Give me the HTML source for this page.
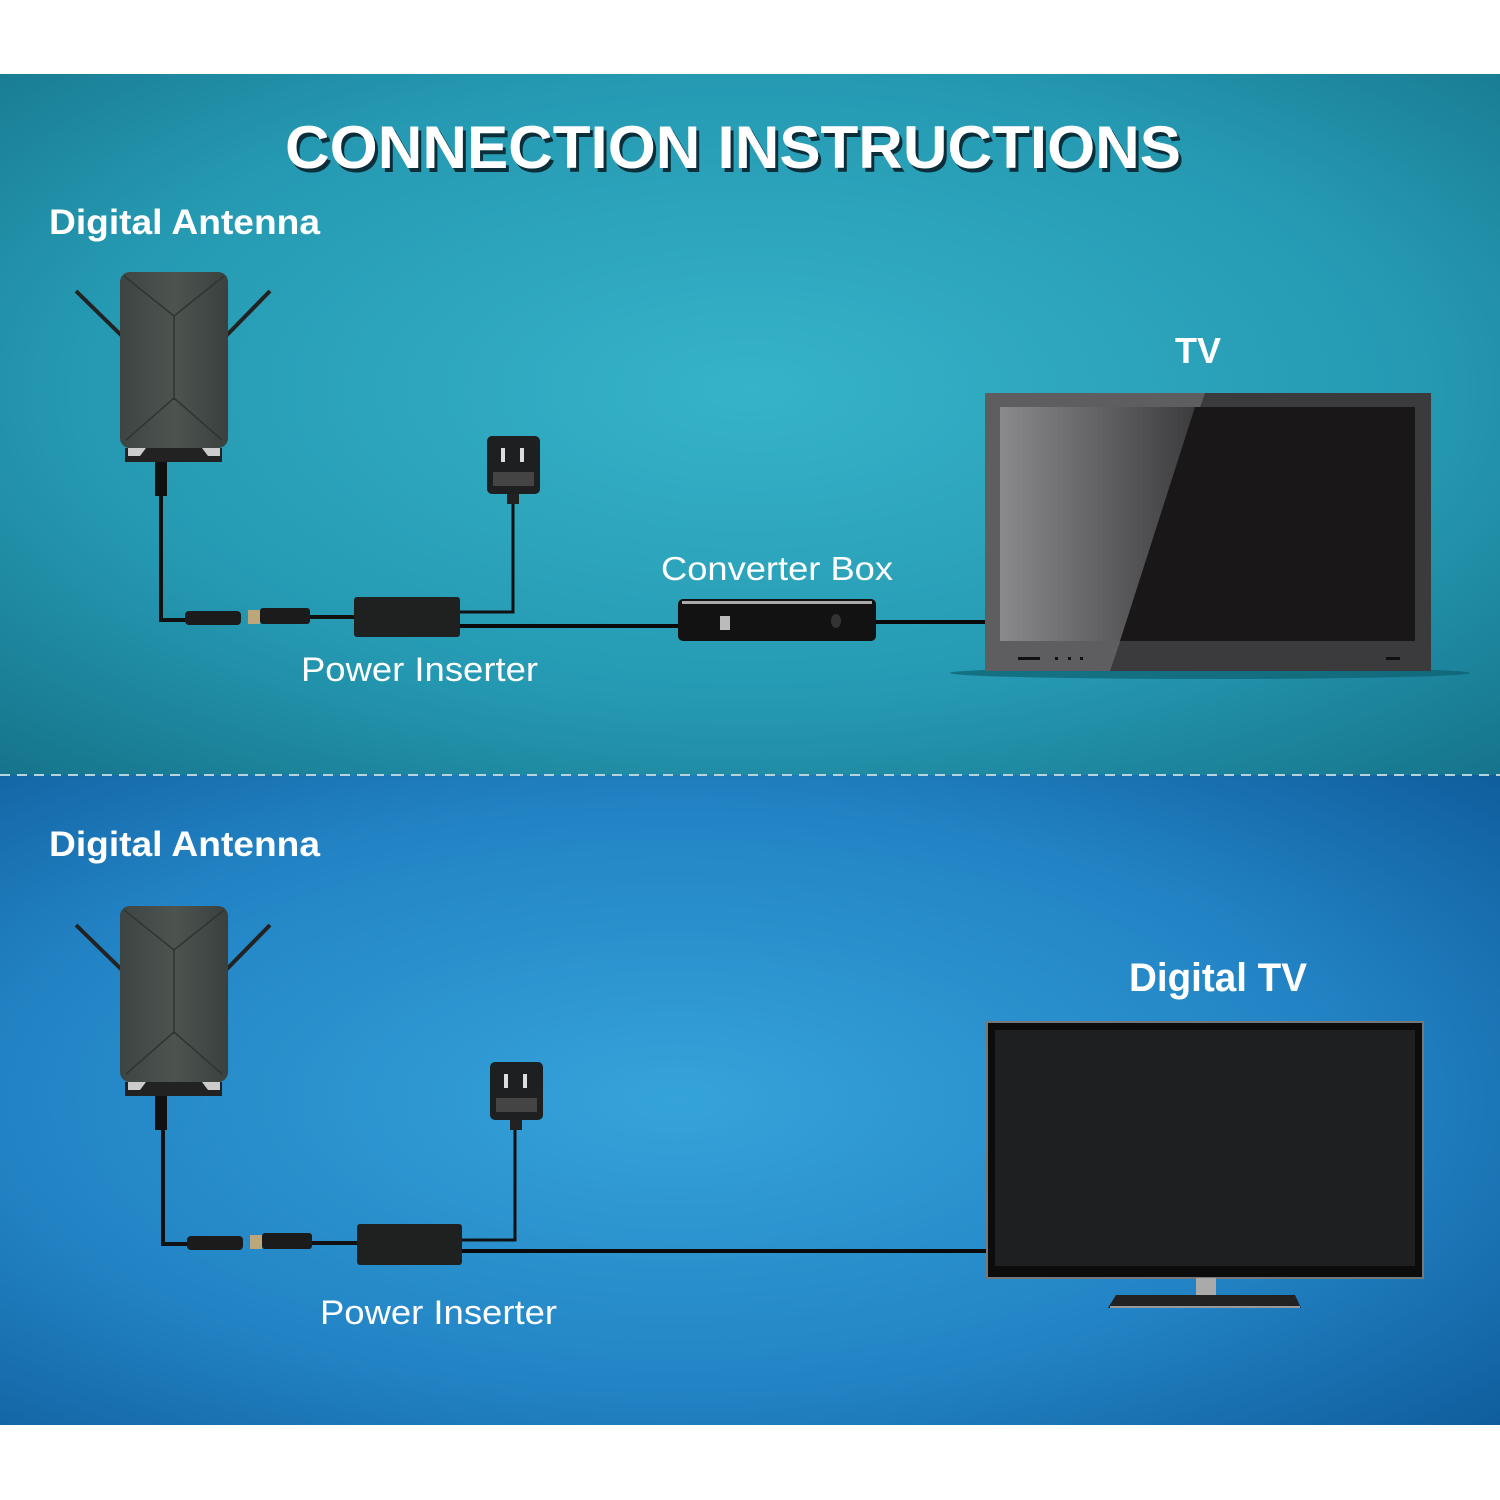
<!DOCTYPE html>
<html><head><meta charset="utf-8"><style>
html,body{margin:0;padding:0;background:#fff}
svg{display:block}
text{font-family:"Liberation Sans",sans-serif;fill:#fff}
</style></head><body>
<svg width="1500" height="1500" viewBox="0 0 1500 1500" xmlns="http://www.w3.org/2000/svg">
<defs>
<radialGradient id="gt" cx="0.5" cy="0.45" r="0.75">
<stop offset="0" stop-color="#36b3c9"/><stop offset="0.6" stop-color="#2599b2"/><stop offset="1" stop-color="#15738a"/>
</radialGradient>
<radialGradient id="gb" cx="0.45" cy="0.5" r="0.75">
<stop offset="0" stop-color="#35a3da"/><stop offset="0.6" stop-color="#2283c4"/><stop offset="1" stop-color="#0f5c9c"/>
</radialGradient>
<linearGradient id="ant" x1="0" x2="1"><stop offset="0" stop-color="#3d4441"/><stop offset="0.5" stop-color="#4d5450"/><stop offset="1" stop-color="#3a403d"/></linearGradient>
<linearGradient id="gloss" x1="0" x2="1"><stop offset="0" stop-color="#8a8a8c"/><stop offset="1" stop-color="#3c3c3e"/></linearGradient>
<g id="antenna">
<line x1="76" y1="291" x2="122" y2="336" stroke="#222" stroke-width="4"/>
<line x1="270" y1="291" x2="226" y2="336" stroke="#222" stroke-width="4"/>
<rect x="120" y="272" width="108" height="176" rx="10" fill="url(#ant)"/>
<path d="M124 276 L174 316 L224 276" fill="none" stroke="#2f3532" stroke-width="1.5"/>
<path d="M174 316 L174 400 M126 440 L174 398 L222 440" fill="none" stroke="#2f3532" stroke-width="1.5"/>
<rect x="125" y="448" width="97" height="14" fill="#222"/>
<path d="M128 448 h18 l-6 8 h-12z M220 448 h-18 l6 8 h12z" fill="#ccc"/>
<rect x="155" y="462" width="12" height="34" fill="#111"/>
</g>
<g id="adapter">
<rect x="0" y="0" width="53" height="58" rx="5" fill="#1d1f20"/>
<rect x="14" y="12" width="4" height="14" fill="#ddd"/><rect x="33" y="12" width="4" height="14" fill="#ddd"/>
<rect x="6" y="36" width="41" height="14" fill="#444"/>
<rect x="20" y="58" width="12" height="10" fill="#222"/>
</g>
</defs>
<rect x="0" y="74" width="1500" height="701" fill="url(#gt)"/>
<rect x="0" y="775" width="1500" height="650" fill="url(#gb)"/>
<line x1="0" y1="775" x2="1500" y2="775" stroke="#b5d3df" stroke-width="2" stroke-dasharray="10 7"/>

<text x="288" y="172" font-size="60" font-weight="bold" textLength="896" lengthAdjust="spacingAndGlyphs" style="fill:#0a2e3a">CONNECTION INSTRUCTIONS</text>
<text x="285" y="168" font-size="60" font-weight="bold" textLength="896" lengthAdjust="spacingAndGlyphs">CONNECTION INSTRUCTIONS</text>

<!-- TOP -->
<text x="49" y="234" font-size="35" font-weight="bold" textLength="271" lengthAdjust="spacingAndGlyphs">Digital Antenna</text>
<use href="#antenna"/>
<polyline points="161,496 161,620 186,620" fill="none" stroke="#111" stroke-width="4"/>
<rect x="185" y="611" width="56" height="14" rx="4" fill="#1b1b1b"/>
<rect x="248" y="610" width="12" height="14" fill="#bba77a"/>
<rect x="260" y="608" width="50" height="16" rx="3" fill="#1b1b1b"/>
<line x1="310" y1="617" x2="356" y2="617" stroke="#111" stroke-width="4"/>
<use href="#adapter" x="487" y="436"/>
<polyline points="513,504 513,612 460,612" fill="none" stroke="#111" stroke-width="3"/>
<rect x="354" y="597" width="106" height="40" rx="3" fill="#1f2121"/>
<line x1="460" y1="626" x2="680" y2="626" stroke="#0a0a0a" stroke-width="4"/>
<text x="301" y="681" font-size="34" textLength="237" lengthAdjust="spacingAndGlyphs">Power Inserter</text>
<text x="661" y="580" font-size="33" textLength="232" lengthAdjust="spacingAndGlyphs">Converter Box</text>
<rect x="678" y="599" width="198" height="42" rx="5" fill="#121212"/>
<rect x="682" y="601" width="190" height="3" fill="#aaa"/>
<rect x="720" y="616" width="10" height="14" fill="#bbb"/>
<ellipse cx="836" cy="621" rx="5" ry="7" fill="#333"/>
<line x1="876" y1="622" x2="986" y2="622" stroke="#0a0a0a" stroke-width="4"/>
<text x="1175" y="363" font-size="36" font-weight="bold" textLength="46" lengthAdjust="spacingAndGlyphs">TV</text>
<ellipse cx="1210" cy="673" rx="260" ry="6" fill="#0d5f6f" opacity="0.7"/>
<rect x="985" y="393" width="446" height="278" fill="#3b3b3d"/>
<polygon points="985,393 1205,393 1110,671 985,671" fill="#5e5e60"/>
<rect x="1000" y="407" width="415" height="234" fill="#1a1718"/>
<polygon points="1000,407 1195,407 1120,641 1000,641" fill="url(#gloss)"/>
<rect x="1018" y="657" width="22" height="3" fill="#111"/>
<rect x="1055" y="657" width="3" height="3" fill="#111"/><rect x="1068" y="657" width="3" height="3" fill="#111"/><rect x="1080" y="657" width="3" height="3" fill="#111"/>
<rect x="1386" y="657" width="14" height="3" fill="#111"/>

<!-- BOTTOM -->
<text x="49" y="856" font-size="35" font-weight="bold" textLength="271" lengthAdjust="spacingAndGlyphs">Digital Antenna</text>
<use href="#antenna" y="634"/>
<polyline points="163,1130 163,1244 188,1244" fill="none" stroke="#111" stroke-width="4"/>
<rect x="187" y="1236" width="56" height="14" rx="4" fill="#1b1b1b"/>
<rect x="250" y="1235" width="12" height="14" fill="#bba77a"/>
<rect x="262" y="1233" width="50" height="16" rx="3" fill="#1b1b1b"/>
<line x1="312" y1="1243" x2="358" y2="1243" stroke="#111" stroke-width="4"/>
<use href="#adapter" x="490" y="1062"/>
<polyline points="515,1130 515,1240 462,1240" fill="none" stroke="#111" stroke-width="3"/>
<rect x="357" y="1224" width="105" height="41" rx="3" fill="#1f2121"/>
<line x1="462" y1="1251" x2="988" y2="1251" stroke="#0a0a0a" stroke-width="4"/>
<text x="320" y="1324" font-size="34" textLength="237" lengthAdjust="spacingAndGlyphs">Power Inserter</text>
<text x="1129" y="991" font-size="40" font-weight="bold" textLength="178" lengthAdjust="spacingAndGlyphs">Digital TV</text>
<rect x="987" y="1022" width="436" height="256" fill="#0c0c0c" stroke="#777" stroke-width="2"/>
<rect x="995" y="1030" width="420" height="236" fill="#1e1f21"/>
<rect x="1196" y="1278" width="20" height="17" fill="#aaa"/>
<polygon points="1116,1295 1295,1295 1301,1308 1108,1308" fill="#222"/>
<line x1="1110" y1="1307" x2="1300" y2="1307" stroke="#999" stroke-width="2"/>
</svg>
</body></html>
